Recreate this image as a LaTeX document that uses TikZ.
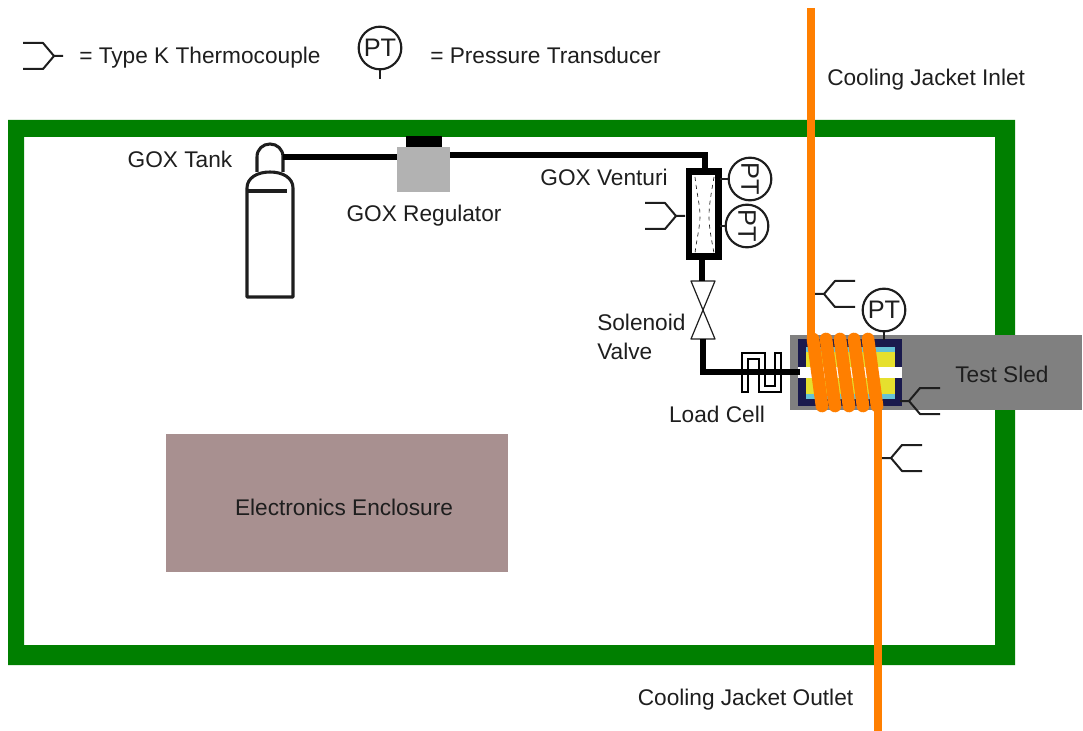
\documentclass[tikz,border=0pt]{standalone}
\usepackage{fontspec}
\setmainfont{Liberation Sans}
\definecolor{frameg}{HTML}{007F00}
\definecolor{coil}{HTML}{FF7F00}
\definecolor{sledg}{HTML}{808080}
\definecolor{regg}{HTML}{B2B2B2}
\definecolor{encl}{HTML}{A89090}
\definecolor{navyc}{HTML}{1A1A4D}
\definecolor{cyanc}{HTML}{66C2D6}
\definecolor{yelc}{HTML}{E6E02E}
\definecolor{ink}{HTML}{1E1E1E}
\newcommand{\thermo}[3]{%
  \begin{scope}[shift={(#1,#2)},xscale=#3]
    \draw[tcline] (0,0) -- (-9,0) -- (-20,-13) -- (-40,-13);
    \draw[tcline] (-9,0) -- (-20,13) -- (-40,13);
  \end{scope}}
\tikzset{
  lab/.style={text=ink,inner sep=0pt,font=\fontsize{17}{20}\selectfont},
  ptnode/.style={circle,draw=ink,line width=1.6pt,fill=white,minimum size=32pt,inner sep=0pt,text=ink,font=\fontsize{19}{20}\selectfont},
  tcline/.style={draw=ink,line width=1.5pt,line join=round},
  pipe/.style={draw=black,line width=4.5pt,line join=miter},
  coilline/.style={draw=coil,line width=9.5pt,line cap=round},
  jacket/.style={draw=coil,line width=6pt},
  stem/.style={draw=ink,line width=1.5pt},
  tankline/.style={draw=ink,line width=2.3pt,line join=round},
}
\begin{document}
\begin{tikzpicture}[x=0.75pt,y=-0.75pt]
\useasboundingbox (0,0) rectangle (1083,731);
% frame
\fill[frameg,even odd rule] (8,120) rectangle (1015,665) (24,137) rectangle (995,645);
% enclosure
\node[fill=encl,minimum width=256.5pt,minimum height=103.5pt,inner sep=0pt] (enc) at (337,503) {};
\node[lab] (enclab) at (344,507) {Electronics Enclosure};
% sled and cell
\node[fill=sledg,minimum width=219pt,minimum height=56.25pt,inner sep=0pt] (sled) at (936,372.5) {};
\fill[navyc] (798,339) rectangle (902,406);
\fill[cyanc] (806,347) rectangle (895,399);
\fill[yelc] (806,352) rectangle (895,394);
\fill[white] (798,367) rectangle (902,378);
\node[lab] (sledlab) at (1002,374) {Test Sled};
% legend
\thermo{63}{56}{1}
\node[lab,anchor=base west] (l1) at (79,64) {= Type K Thermocouple};
\node[ptnode] (ptl) at (380,48) {PT};
\coordinate (ptlend) at (380,79);
\draw[stem] (ptl.south) -- (ptlend);
\node[lab,anchor=base west] (l2) at (430,64) {= Pressure Transducer};
% tank
\draw[tankline] (247,188) .. controls (247,178) and (257,172) .. (270,172) .. controls (283,172) and (293,178) .. (293,188) -- (293,297) -- (247,297) -- cycle;
\draw[tankline] (247,191) -- (287,191);
\draw[tankline] (257,172) -- (257,157) .. controls (257,149) and (263,144) .. (270,144) .. controls (277,144) and (283,149) .. (283,157) -- (283,172);
\coordinate (neck) at (283,157);
\node[lab] (tanklab) at (180,159) {GOX Tank};
% regulator
\node[fill=regg,minimum width=39.75pt,minimum height=33.75pt,inner sep=0pt] (reg) at (423.5,169.5) {};
\node[fill=black,minimum width=27pt,minimum height=8.25pt,inner sep=0pt,anchor=south] (regtop) at (424,147) {};
\node[lab] (reglab) at (424,216) {GOX Regulator};
\draw[pipe] (neck) -- (neck -| reg.west);
% venturi
\node[draw=black,line width=5pt,fill=white,minimum width=22pt,minimum height=64pt,inner sep=0pt] (ven) at (703.5,214) {};
\draw[pipe] (reg.east |- 0,155) -- (705,155) -- (705,168);
\draw[draw=ink,line width=0.5pt,dashed] (695,177) .. controls (697,195) and (700,205) .. (700,216) .. controls (700,227) and (697,237) .. (695,253);
\draw[draw=ink,line width=0.5pt,dashed] (714,177) .. controls (711,195) and (709,205) .. (709,216) .. controls (709,227) and (711,237) .. (714,253);
\node[lab] (venlab) at (604,177) {GOX Venturi};
\node[ptnode,rotate=-90] (pt1) at (750,179) {PT};
\node[ptnode,rotate=-90] (pt2) at (747,226) {PT};
\draw[stem] (720,179) -- (pt1.south);
\draw[stem] (720,226) -- (pt2.south);
\thermo{685}{216}{1}
% valve
\draw[draw=ink,line width=0.9pt,fill=white,line join=round] (691,281) -- (715,281) -- (691,339) -- (715,339) -- cycle;
\draw[pipe] (702,260) -- (702,281);
\coordinate (valveout) at (703,339);
\coordinate (pipeend) at (800,372);
\draw[pipe] (valveout) |- (pipeend);
\node[lab,anchor=west] (sol1) at (597,322) {Solenoid};
\node[lab,anchor=west] (sol2) at (597,351) {Valve};
% load cell
\draw[draw=black,line width=6pt,line join=miter] (745,393) -- (745,356) -- (762,356) -- (762,389) -- (778,389) -- (778,352);
\draw[draw=white,line width=3pt,line join=miter] (745,391) -- (745,356) -- (762,356) -- (762,389) -- (778,389) -- (778,354);
\draw[pipe] (735,372) -- (pipeend);
\node[lab] (lclab) at (717,414) {Load Cell};
% sensors on cell
\node[ptnode] (pt3) at (884,310) {PT};
\draw[stem] (pt3.south) -- (884,340);
\thermo{900}{401}{-1}
\thermo{815}{294}{-1}
\thermo{882}{458}{-1}
% jacket
\coordinate (jin) at (811,8);
\coordinate (jint) at (811,340);
\coordinate (jout) at (878,731);
\coordinate (joutt) at (878,404);
\draw[jacket] (jin) -- (jint);
\draw[jacket] (joutt) -- (jout);
\draw[coilline] (813,339) -- (822,406);
\draw[coilline] (826,339) -- (835,406);
\draw[coilline] (840,339) -- (849,406);
\draw[coilline] (854,339) -- (863,406);
\draw[coilline] (868,339) -- (877,406);
\node[lab,anchor=west] (jilab) at (827,80) {Cooling Jacket Inlet};
\node[lab] (jolab) at (745.5,700) {Cooling Jacket Outlet};
\end{tikzpicture}
\end{document}
